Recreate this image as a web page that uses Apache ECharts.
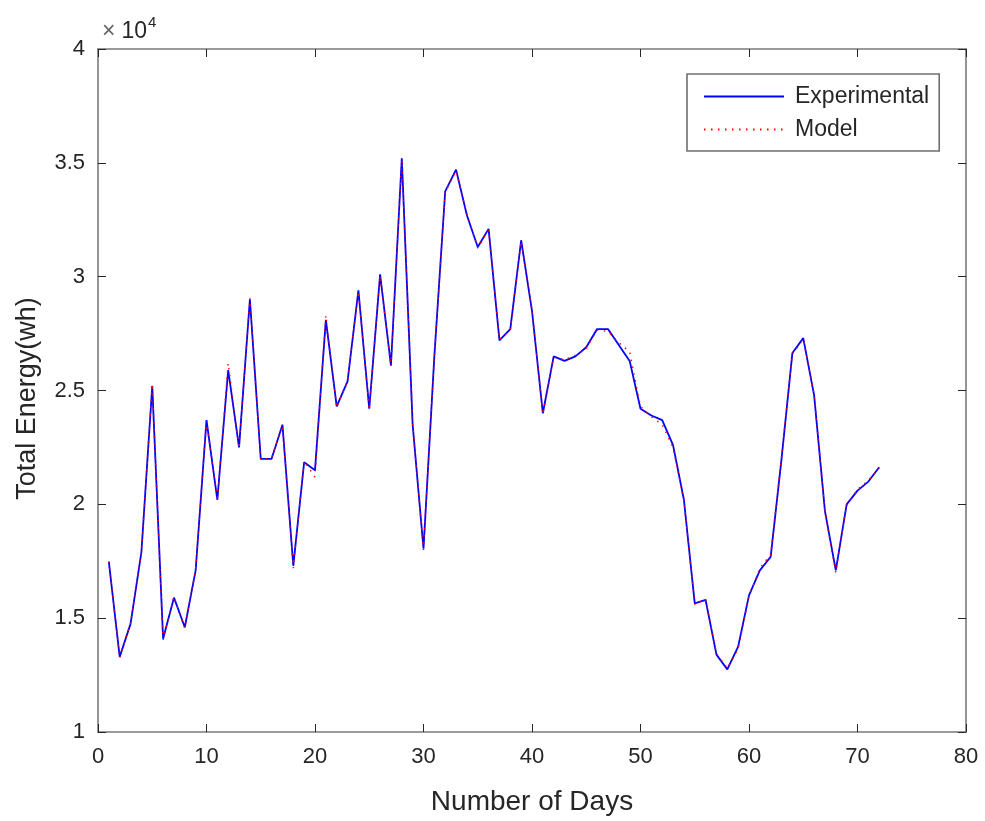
<!DOCTYPE html>
<html>
<head>
<meta charset="utf-8">
<script src="https://cdn.jsdelivr.net/npm/echarts@6/dist/echarts.min.js"></script>
<style>
html,body{margin:0;padding:0;background:#fff;}
#c{width:985px;height:821px;}
</style>
</head>
<body>
<div id="c"></div>
<script>
const days = [];
for (let d = 1; d <= 72; d++) days.push(d);

const experimental = [
  17470, 13300, 14750, 17900, 25200, 14100, 15900, 14600, 17100, 23700,
  20200, 25900, 22500, 29000, 22000, 22000, 23500, 17300, 21850, 21500,
  28100, 24300, 25400, 29400, 24200, 30100, 26100, 35200, 23500, 18050,
  26500, 33750, 34700, 32700, 31300, 32100, 27200, 27700, 31600, 28500,
  24000, 26500, 26300, 26500, 26900, 27700, 27700, 27000, 26300, 24200,
  23900, 23700, 22600, 20200, 15650, 15800, 13400, 12750, 13750, 16000,
  17100, 17700, 22000, 26650, 27300, 24800, 19700, 17100, 20000, 20600,
  21000, 21630
];

const model = [
  17500, 13250, 14800, 17850, 25300, 14050, 15950, 14550, 17150, 23650,
  20150, 26200, 22450, 29050, 21950, 22050, 23450, 17200, 21900, 21200,
  28300, 24250, 25450, 29350, 24150, 30050, 26050, 35100, 23550, 18000,
  26450, 33700, 34650, 32750, 31250, 32050, 27250, 27650, 31550, 28550,
  23950, 26450, 26350, 26550, 26850, 27650, 27600, 27100, 26700, 24300,
  23850, 23500, 22500, 20150, 15600, 15850, 13450, 12800, 13650, 15950,
  17200, 17800, 22100, 26600, 27250, 24850, 19650, 17000, 19950, 20650,
  21050, 21600
];

const xTicks = [0, 10, 20, 30, 40, 50, 60, 70, 80];
const yTicks = [1, 1.5, 2, 2.5, 3, 3.5, 4];

const font = 'Liberation Sans, Arial, Helvetica, sans-serif';
const textColor = '#262626';
const frameColor = '#7a7a7a';

const chart = echarts.init(document.getElementById('c'), null, {renderer: 'canvas'});

function axisCommon() {
  return {
    axisLine: {show: true, onZero: false, lineStyle: {color: frameColor, width: 1.6}},
    axisTick: {show: true, inside: true, length: 8, lineStyle: {color: '#262626', width: 1}},
    splitLine: {show: false}
  };
}

chart.setOption({
  animation: false,
  backgroundColor: '#fff',
  grid: {left: 98, right: 19, top: 49, bottom: 87, containLabel: false},
  xAxis: [
    Object.assign({
      type: 'value', position: 'bottom', min: xTicks[0], max: xTicks[xTicks.length - 1], interval: 10,
      name: 'Number of Days', nameLocation: 'middle', nameGap: 56,
      nameTextStyle: {fontFamily: font, fontSize: 28, color: textColor},
      axisLabel: {fontFamily: font, fontSize: 22, color: textColor, margin: 14}
    }, axisCommon()),
    Object.assign({
      type: 'value', position: 'top', min: xTicks[0], max: xTicks[xTicks.length - 1], interval: 10,
      axisLabel: {show: false}
    }, axisCommon())
  ],
  yAxis: [
    Object.assign({
      type: 'value', position: 'left', min: yTicks[0] * 10000, max: yTicks[yTicks.length - 1] * 10000, interval: 5000,
      name: 'Total Energy(wh)', nameLocation: 'middle', nameGap: 57,
      nameTextStyle: {fontFamily: font, fontSize: 27, color: textColor, padding: [0, 16, 0, 0]},
      axisLabel: {fontFamily: font, fontSize: 22, color: textColor, margin: 13,
        formatter: v => String(v / 10000)}
    }, axisCommon()),
    Object.assign({
      type: 'value', position: 'right', min: yTicks[0] * 10000, max: yTicks[yTicks.length - 1] * 10000, interval: 5000,
      axisLabel: {show: false}
    }, axisCommon())
  ],
  legend: {
    orient: 'vertical',
    left: 687, top: 74,
    padding: [9, 10, 8, 16],
    itemGap: 6,
    itemWidth: 80, itemHeight: 14,
    borderColor: '#6e6e6e', borderWidth: 1.6,
    backgroundColor: '#fff',
    itemStyle: {opacity: 0},
    textStyle: {fontFamily: font, fontSize: 23, color: textColor, lineHeight: 27, padding: [0, 0, 0, 6]},
    data: ['Experimental', 'Model']
  },
  series: [
    {
      name: 'Experimental', type: 'line', xAxisIndex: 0, yAxisIndex: 0,
      data: days.map((d, i) => [d, experimental[i]]),
      symbol: 'none', smooth: false,
      lineStyle: {color: '#0000ff', width: 1.8},
      itemStyle: {color: '#0000ff'}
    },
    {
      name: 'Model', type: 'line', xAxisIndex: 0, yAxisIndex: 0,
      data: days.map((d, i) => [d, model[i]]),
      symbol: 'none', smooth: false,
      lineStyle: {color: '#ff0000', width: 1.4, type: [1.5, 5.5]},
      itemStyle: {color: '#ff0000'}
    }
  ],
  graphic: [
    {
      type: 'text', left: 102, top: 15,
      style: {
        text: '{x|×}{b|10}{s|4}',
        rich: {
          x: {fontFamily: font, fontSize: 23, fill: '#666', padding: [6, 6, 0, 0]},
          b: {fontFamily: font, fontSize: 23, fill: textColor, padding: [6, 0, 0, 0]},
          s: {fontFamily: font, fontSize: 15, fill: textColor, padding: [0, 0, 12, 1]}
        }
      }
    }
  ]
});
</script>
</body>
</html>
